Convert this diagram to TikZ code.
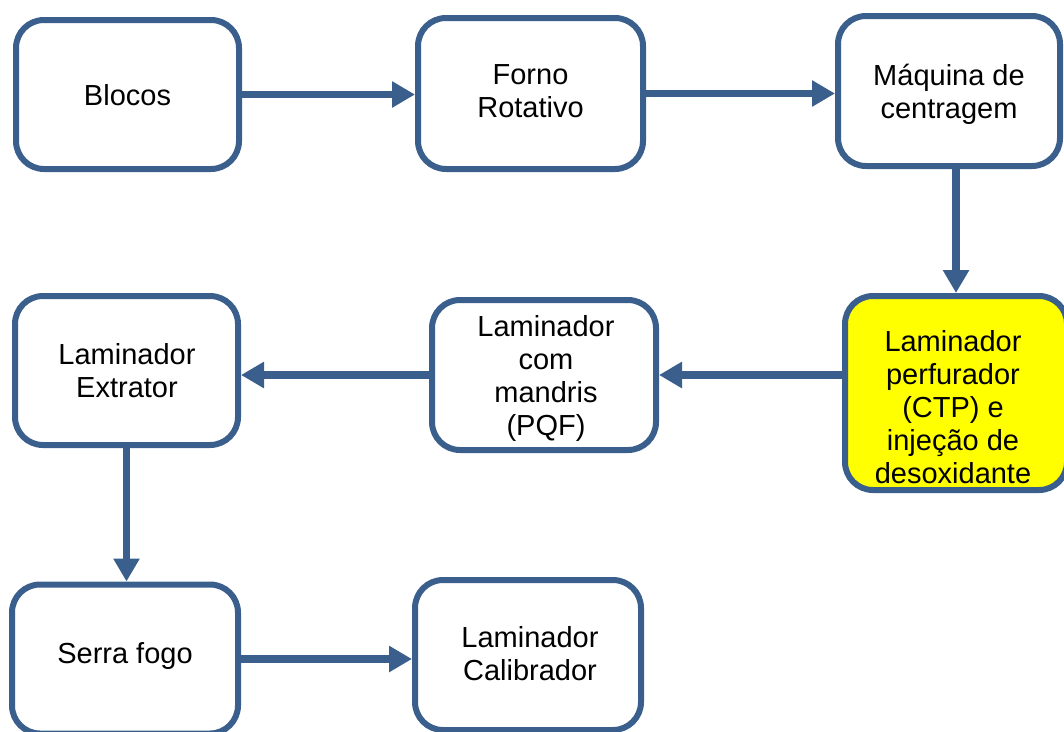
\documentclass[tikz,border=0pt]{standalone}
\usepackage{fontspec}
\setmainfont{Liberation Sans}
\usetikzlibrary{arrows.meta}
\definecolor{boxblue}{RGB}{58,95,140}
\definecolor{hiyellow}{RGB}{255,255,0}
\begin{document}
\begin{tikzpicture}[x=1pt,y=-1pt,
  procbox/.style={draw=boxblue, line width=6pt, rounded corners=28pt, fill=white, inner sep=0pt},
  lbl/.style={align=center, font=\fontsize{29}{33}\selectfont, inner sep=0pt},
  arr/.style={draw=boxblue, line width=7.5pt, -{Triangle[length=23pt,width=25pt]}}]
\useasboundingbox (0,0) rectangle (1064,731);
\clip (0,0) rectangle (1064,731);
% boxes
\node[procbox, minimum width=223pt, minimum height=149pt] (b1) at (127.5,94.5) {};
\node[procbox, minimum width=225pt, minimum height=151pt] (b2) at (530.5,93.5) {};
\node[procbox, minimum width=222pt, minimum height=150pt] (b3) at (949,91) {};
\node[procbox, fill=hiyellow, minimum width=222pt, minimum height=194pt] (b4) at (956,393) {};
\node[procbox, minimum width=224pt, minimum height=150pt] (b5) at (544,375) {};
\node[procbox, minimum width=223pt, minimum height=149pt] (b6) at (126.5,370.5) {};
\node[procbox, minimum width=226pt, minimum height=149pt] (b7) at (125,659) {};
\node[procbox, minimum width=226pt, minimum height=150pt] (b8) at (528,655) {};
% labels
\node[lbl] (t1) at (127.5,95) {Blocos};
\node[lbl] (t2) at (530.5,91.5) {Forno\\Rotativo};
\node[lbl] (t3) at (949,94) {Máquina de\\centragem};
\node[lbl] (t4) at (953,407.5) {Laminador\\perfurador\\(CTP) e\\injeção de\\desoxidante};
\node[lbl] (t5) at (546,378.5) {Laminador\\com\\mandris\\(PQF)};
\node[lbl] (t6) at (127,371) {Laminador\\Extrator};
\node[lbl] (t7) at (125,656) {Serra fogo};
\node[lbl] (t8) at (530,653.5) {Laminador\\Calibrador};
% connectors
\draw[arr] (b1.east) -- (b1.east -| b2.west);
\draw[arr] (b2.east) -- (b2.east -| b3.west);
\draw[arr] (b3.south -| b4.north) -- (b4.north);
\draw[arr] (b5.east -| b4.west) -- (b5.east);
\draw[arr] (b5.west) -- (b5.west -| b6.east);
\draw[arr] (b6.south) -- (b6.south |- b7.north);
\draw[arr] (b7.east) -- (b7.east -| b8.west);
\end{tikzpicture}
\end{document}
